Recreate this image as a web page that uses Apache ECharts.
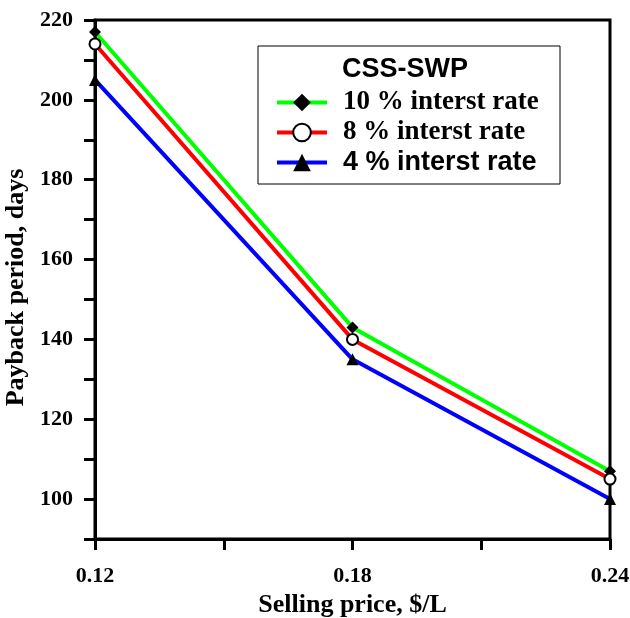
<!DOCTYPE html>
<html>
<head>
<meta charset="utf-8">
<script src="https://cdn.jsdelivr.net/npm/echarts@6/dist/echarts.min.js"></script>
<style>
  html, body { margin: 0; padding: 0; background: #fff; }
  #chart { width: 630px; height: 618px; }
</style>
</head>
<body>
<div id="chart"></div>
<script>
const sellingPrice = [0.12, 0.18, 0.24]
const rate10 = [217, 143, 107]
const rate8 = [214, 140, 105]
const rate4 = [205, 135, 100]
const seriesNames = ['10 % interst rate', '8 % interst rate', '4 % interst rate']

const serif = 'Liberation Serif, Times New Roman, serif'
const sans = 'Liberation Sans, Arial, sans-serif'

function pairs(ys) {
  return sellingPrice.map((x, i) => [x, ys[i]])
}

const chart = echarts.init(document.getElementById('chart'))

chart.setOption({
  animation: false,
  backgroundColor: '#fff',
  grid: {
    left: 95,
    right: 20,
    top: 20,
    bottom: 79,
    outerBoundsMode: 'none',
    show: true,
    borderColor: '#000',
    borderWidth: 3
  },
  title: {
    text: 'CSS-SWP',
    left: 342,
    top: 56,
    padding: 0,
    textStyle: { fontFamily: sans, fontWeight: 'bold', fontSize: 27, color: '#000' }
  },
  graphic: [{
    type: 'rect',
    shape: { x: 258, y: 46, width: 302, height: 138 },
    style: { fill: '#fff', stroke: '#000', lineWidth: 1 },
    z: 0
  }],
  legend: {
    orient: 'vertical',
    left: 275,
    top: 89,
    padding: 0,
    itemWidth: 50,
    itemHeight: 22,
    itemGap: 3,
    z: 5,
    lineStyle: { width: 4 },
    textStyle: {
      fontFamily: serif, fontWeight: 'bold', fontSize: 27, lineHeight: 22,
      color: '#000', padding: [0, 0, 0, 11]
    },
    data: [
      { name: seriesNames[0] },
      { name: seriesNames[1] },
      { name: seriesNames[2], textStyle: { fontFamily: sans, fontSize: 27 } }
    ]
  },
  xAxis: {
    type: 'value',
    min: 0.12,
    max: 0.24,
    interval: 0.03,
    name: 'Selling price, $/L',
    nameLocation: 'middle',
    nameGap: 41,
    nameTextStyle: { fontFamily: serif, fontWeight: 'bold', fontSize: 26, color: '#000' },
    axisLine: { lineStyle: { color: '#000', width: 3 } },
    axisTick: { inside: false, length: 11, lineStyle: { color: '#000', width: 3 } },
    axisLabel: {
      margin: 26,
      fontFamily: serif,
      fontWeight: 'bold',
      fontSize: 22,
      color: '#000',
      formatter: v => (Math.round(v * 100) % 6 === 0 ? v.toFixed(2) : '')
    },
    splitLine: { show: false }
  },
  yAxis: {
    type: 'value',
    min: 90,
    max: 220,
    interval: 10,
    name: 'Payback period, days',
    nameLocation: 'middle',
    nameGap: 57,
    nameTextStyle: {
      fontFamily: serif, fontWeight: 'bold', fontSize: 26, color: '#000',
      padding: [0, 16, 0, 0]
    },
    axisLine: { show: true, lineStyle: { color: '#000', width: 3 } },
    axisTick: { show: true, inside: false, length: 11, lineStyle: { color: '#000', width: 3 } },
    axisLabel: {
      margin: 22,
      fontFamily: serif,
      fontWeight: 'bold',
      fontSize: 22,
      color: '#000',
      formatter: v => (v % 20 === 0 ? String(v) : '')
    },
    splitLine: { show: false }
  },
  series: [{
    name: seriesNames[0],
    type: 'line',
    data: pairs(rate10),
    symbol: 'diamond',
    symbolSize: 12,
    clip: false,
    itemStyle: { color: '#000' },
    lineStyle: { color: '#00ff00', width: 4 }
  }, {
    name: seriesNames[1],
    type: 'line',
    data: pairs(rate8),
    symbol: 'emptyCircle',
    symbolSize: 11,
    clip: false,
    itemStyle: { color: '#000', borderWidth: 1.2 },
    lineStyle: { color: '#ff0000', width: 4 }
  }, {
    name: seriesNames[2],
    type: 'line',
    data: pairs(rate4),
    symbol: 'triangle',
    symbolSize: 12,
    clip: false,
    itemStyle: { color: '#000' },
    lineStyle: { color: '#0000ff', width: 4 }
  }]
})
</script>
</body>
</html>
